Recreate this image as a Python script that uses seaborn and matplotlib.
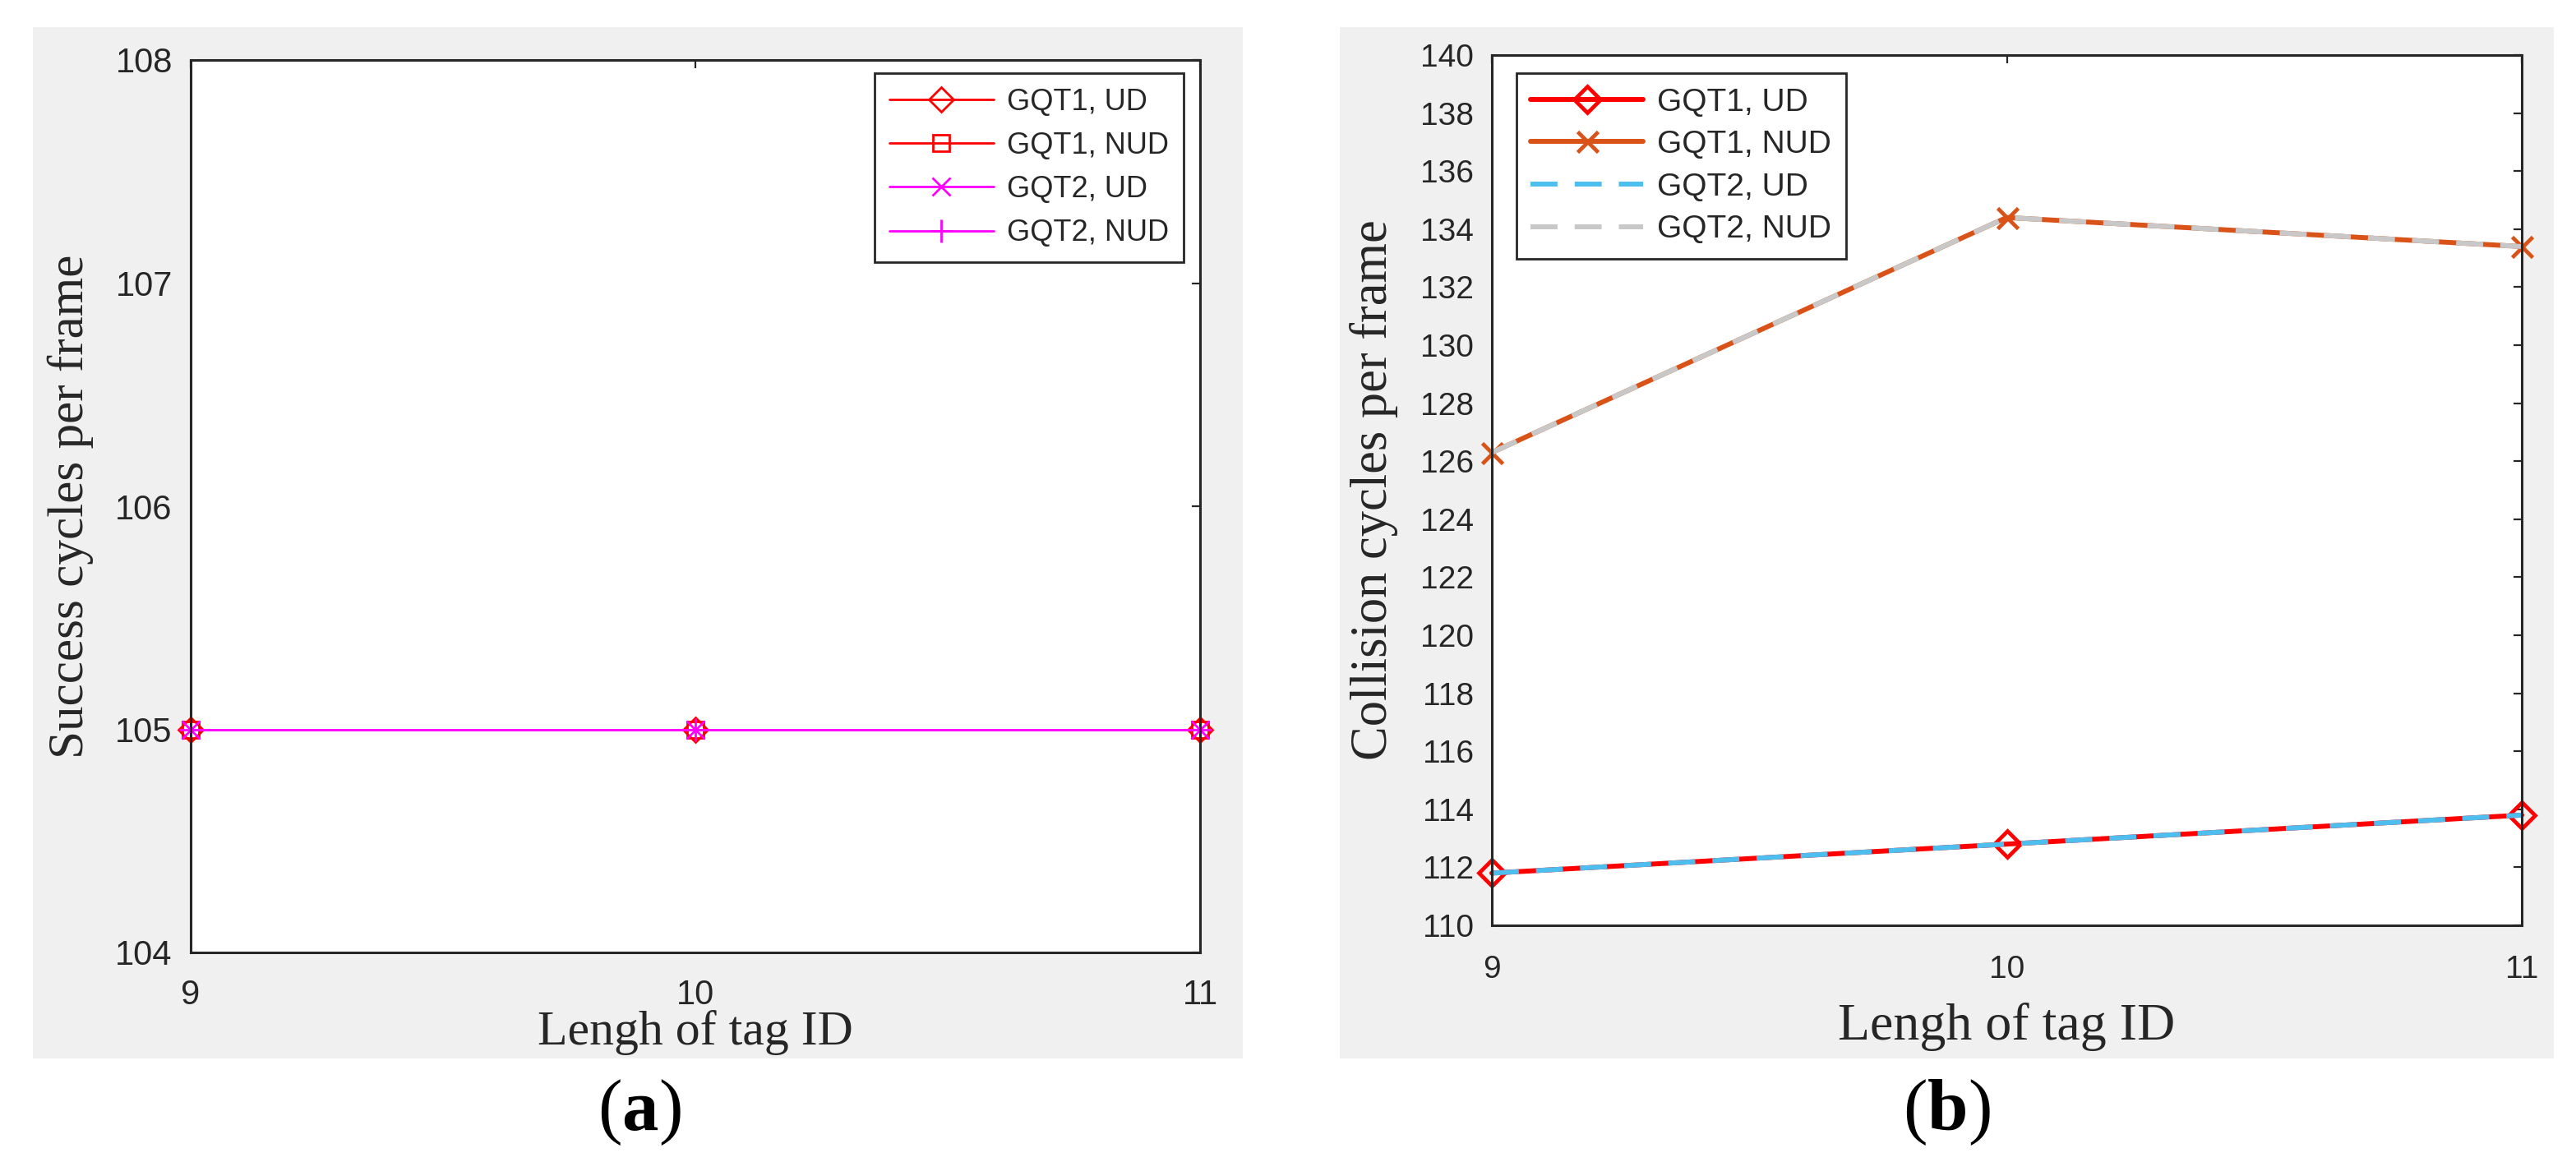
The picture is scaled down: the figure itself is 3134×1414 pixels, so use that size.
import matplotlib
matplotlib.use("Agg")
import matplotlib.pyplot as plt
import seaborn as sns
import pandas as pd
from matplotlib.patches import Rectangle

# ---------------- data ----------------
tag_lengths = [9, 10, 11]

series_names = ["GQT1, UD", "GQT1, NUD", "GQT2, UD", "GQT2, NUD"]

success_gqt1_ud = [105, 105, 105]
success_gqt1_nud = [105, 105, 105]
success_gqt2_ud = [105, 105, 105]
success_gqt2_nud = [105, 105, 105]

collision_gqt1_ud = [111.8, 112.8, 113.8]
collision_gqt1_nud = [126.3, 134.4, 133.4]
collision_gqt2_ud = [111.8, 112.8, 113.8]
collision_gqt2_nud = [126.3, 134.4, 133.4]

left_yticks = [104, 105, 106, 107, 108]
right_yticks = list(range(110, 141, 2))
xticks = [9, 10, 11]

# ---------------- style ----------------
sns.set_style("white")
plt.rcParams["font.family"] = ["Liberation Sans", "DejaVu Sans"]
plt.rcParams["mathtext.fontset"] = "custom"
plt.rcParams["mathtext.rm"] = "Liberation Serif"
plt.rcParams["mathtext.bf"] = "Liberation Serif:bold"

W, H = 3134, 1414
fig = plt.figure(figsize=(W / 100, H / 100), dpi=100)
fig.patch.set_facecolor("white")

def fx(px):
    return px / W

def fy(py):
    return 1 - py / H

# gray panel backgrounds
for x0, x1 in [(40, 1512), (1630, 3107)]:
    fig.patches.append(Rectangle((fx(x0), fy(1288)), fx(x1) - fx(x0), fy(33) - fy(1288),
                                 transform=fig.transFigure, facecolor="#f0f0f0",
                                 edgecolor="none", zorder=-5))

DARK = "#262626"
SERIF = "Liberation Serif"

def make_axes(box):
    x0, y0, x1, y1 = box
    ax = fig.add_axes([fx(x0), fy(y1), fx(x1) - fx(x0), fy(y0) - fy(y1)])
    ax.set_zorder(2)
    ax.set_facecolor("white")
    for s in ax.spines.values():
        s.set_visible(True)
        s.set_color(DARK)
        s.set_linewidth(2.2)
    return ax

# ---------------- panel (a) ----------------
axL = make_axes((232, 73, 1460, 1159))
left_styles = [
    dict(color="#ff0000", marker="D", markersize=15, markerfacecolor="none"),
    dict(color="#ff0000", marker="s", markersize=15, markerfacecolor="none"),
    dict(color="#ff00ff", marker="x", markersize=16),
    dict(color="#ff00ff", marker="+", markersize=20),
]
left_vals = [success_gqt1_ud, success_gqt1_nud, success_gqt2_ud, success_gqt2_nud]
for name, vals, st in zip(series_names, left_vals, left_styles):
    df = pd.DataFrame({"x": tag_lengths, "y": vals})
    sns.lineplot(data=df, x="x", y="y", ax=axL, label=name, linewidth=2.0,
                 markeredgecolor=st["color"], markeredgewidth=2.0, clip_on=False, **st)

axL.set_xlim(9, 11)
axL.set_ylim(104, 108)
axL.set_xticks(xticks)
axL.set_yticks(left_yticks)
axL.tick_params(direction="in", length=7, width=1.6, top=True, right=True,
                colors=DARK, labelsize=30)
axL.tick_params(axis="x", pad=23)
axL.tick_params(axis="y", pad=16)
axL.set_xlabel("Lengh of tag ID", fontfamily=SERIF, fontsize=43, color=DARK)
axL.set_ylabel("Success cycles per frame", fontfamily=SERIF, fontsize=44, color=DARK)
axL.xaxis.set_label_coords(0.5, (1159 - 1229) / 1086)
axL.yaxis.label.set_va("center")
axL.yaxis.set_label_coords((86 - 232) / 1228, 0.5)
legL = axL.legend(loc="upper right", bbox_to_anchor=(0.9837, 0.9853), borderaxespad=0,
                  fontsize=26, frameon=True, fancybox=False, framealpha=1,
                  edgecolor=DARK, handlelength=3.5, handletextpad=0.45,
                  labelspacing=0.5, borderpad=0.5)
legL.get_frame().set_linewidth(2.0)
for t in legL.get_texts():
    t.set_color(DARK)

# ---------------- panel (b) ----------------
axR = make_axes((1815, 67, 3068, 1126))
right_styles = [
    dict(color="#ff0000", marker="D", markersize=16.5, markerfacecolor="none",
         markeredgewidth=3.4, linestyle="-"),
    dict(color="#d95319", marker="x", markersize=18, markeredgewidth=3.4, linestyle="-"),
    dict(color="#4dbeee", linestyle=(0, (5.5, 3.5))),
    dict(color="#c8c8c8", linestyle=(0, (5.5, 3.5))),
]
right_vals = [collision_gqt1_ud, collision_gqt1_nud, collision_gqt2_ud, collision_gqt2_nud]
for name, vals, st in zip(series_names, right_vals, right_styles):
    df = pd.DataFrame({"x": tag_lengths, "y": vals})
    sns.lineplot(data=df, x="x", y="y", ax=axR, label=name, linewidth=4.3,
                 markeredgecolor=st["color"], clip_on=False, **st)

axR.set_xlim(9, 11)
axR.set_ylim(110, 140)
axR.set_xticks(xticks)
axR.set_yticks(right_yticks)
axR.tick_params(direction="in", length=7, width=1.6, top=True, right=True,
                colors=DARK, labelsize=28)
axR.tick_params(axis="x", pad=26)
axR.tick_params(axis="y", pad=16)
axR.set_xlabel("Lengh of tag ID", fontfamily=SERIF, fontsize=46, color=DARK)
axR.set_ylabel("Collision cycles per frame", fontfamily=SERIF, fontsize=45, color=DARK)
axR.xaxis.set_label_coords(0.5, (1126 - 1220) / 1059)
axR.yaxis.label.set_va("center")
axR.yaxis.set_label_coords((1672 - 1815) / 1253, 0.5)
legR = axR.legend(loc="upper left", bbox_to_anchor=(0.0239, 0.9792), borderaxespad=0,
                  fontsize=28, frameon=True, fancybox=False, framealpha=1,
                  edgecolor=DARK, handlelength=3.5, handletextpad=0.45,
                  labelspacing=0.4, borderpad=0.45)
legR.get_frame().set_linewidth(2.0)
for t in legR.get_texts():
    t.set_color(DARK)

# ---------------- panel captions ----------------
fig.text(fx(778), fy(1375), r"($\mathbf{a}$)", fontsize=64, ha="center", va="baseline",
         fontfamily=SERIF, color="black")
fig.text(fx(2368), fy(1375), r"($\mathbf{b}$)", fontsize=64, ha="center", va="baseline",
         fontfamily=SERIF, color="black")

fig.savefig("out.png", dpi=100, facecolor="white")
